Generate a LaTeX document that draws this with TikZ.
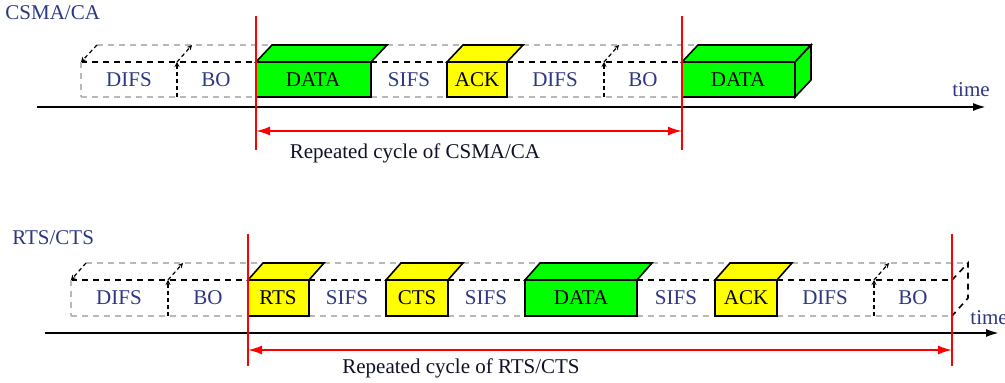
\documentclass[tikz,border=0pt]{standalone}
\usepackage{fontspec}
\setmainfont{Liberation Serif}
\usetikzlibrary{arrows.meta}
\definecolor{lblue}{RGB}{45,55,130}
\definecolor{boxgreen}{RGB}{0,255,0}
\definecolor{boxyellow}{RGB}{255,255,0}
\definecolor{cyclered}{RGB}{255,0,0}
\tikzset{
  solidline/.style={draw=black,line width=0.8pt,line join=miter},
  frontdash/.style={draw=black,line width=0.8pt,dash pattern=on 3pt off 2.5pt},
  backdash/.style={draw=gray!55,line width=1.2pt,dash pattern=on 3pt off 2.5pt},
  edgedash/.style={draw=black,line width=0.6pt,dash pattern=on 2pt off 1.5pt,-{Stealth[length=2.5pt,width=2.5pt]}},
  lbl/.style={font=\fontsize{10.5}{12}\selectfont,text=lblue,inner sep=0pt},
  blbl/.style={font=\fontsize{10.5}{12}\selectfont,text=black,inner sep=0pt},
  redline/.style={draw=cyclered,line width=0.9pt},
  cyclearrow/.style={draw=cyclered,line width=0.9pt,{Latex[length=7pt,width=4.5pt]}-{Latex[length=7pt,width=4.5pt]}},
  axis/.style={draw=black,line width=1.3pt,-{Latex[length=7pt,width=4pt]}}
}
% x1, x2, yfront, ybottom, yback, dx, colour
\newcommand{\tlbox}[7]{%
  \filldraw[solidline,fill=#7] (#1,#3) rectangle (#2,#4);
  \filldraw[solidline,fill=#7] (#1,#3) -- (#1+#6,#5) -- (#2+#6,#5) -- (#2,#3) -- cycle;}
% x1, x2, yfront, ybottom, yback, dx
\newcommand{\tldash}[6]{%
  \draw[backdash] (#1+#6,#5) -- (#2+#6,#5);
  \draw[frontdash] (#1,#3) -- (#2,#3);
  \draw[backdash] (#1,#4) -- (#2,#4);}
\begin{document}
\begin{tikzpicture}[x=0.5pt,y=-0.5pt]
\clip (0,0) rectangle (1005,383);
% ================= CSMA/CA =================
\node[lbl,anchor=west] (t1) at (5,13) {CSMA/CA};
\tldash{81}{256}{62}{97}{45}{16}
\tldash{371}{447}{62}{97}{45}{16}
\tldash{507}{682}{62}{97}{45}{16}
\draw[backdash] (81,62) -- (81,97);
\draw[edgedash] (97,45) -- (81,62);
\draw[edgedash] (177,97) -- (177,62);
\draw[edgedash] (177,62) -- (192,45);
\draw[edgedash] (604,97) -- (604,62);
\draw[edgedash] (604,62) -- (619,45);
\tlbox{256}{371}{62}{97}{45}{16}{boxgreen}
\tlbox{447}{507}{62}{97}{45}{16}{boxyellow}
\tlbox{682}{795}{62}{97}{45}{16}{boxgreen}
\filldraw[solidline,fill=boxgreen] (795,62) -- (811,45) -- (811,80) -- (795,97) -- cycle;
\node[lbl] (a1) at (129,80) {DIFS};
\node[lbl] (a2) at (216,80) {BO};
\node[blbl] (a3) at (313,80) {DATA};
\node[lbl] (a4) at (409,80) {SIFS};
\node[blbl] (a5) at (477,80) {ACK};
\node[lbl] (a6) at (555,80) {DIFS};
\node[lbl] (a7) at (643,80) {BO};
\node[blbl] (a8) at (738,80) {DATA};
\coordinate (ax1s) at (37,107);
\coordinate (ax1e) at (987,107);
\draw[axis] (ax1s) -- (ax1e);
\node[lbl] (time1) at (971,90) {time};
\coordinate (r1t) at (256,16); \coordinate (r1b) at (256,150);
\coordinate (r2t) at (682,16); \coordinate (r2b) at (682,150);
\draw[redline] (r1t) -- (r1b);
\draw[redline] (r2t) -- (r2b);
\coordinate (c1s) at (256,131); \coordinate (c1e) at (682,131);
\draw[cyclearrow] (c1s) -- (c1e);
\node[lbl,text=black!70!lblue] (rep1) at (415,153) {Repeated cycle of CSMA/CA};
% ================= RTS/CTS =================
\node[lbl,anchor=west] (t2) at (12,238) {RTS/CTS};
\tldash{71}{248}{280}{316}{263}{15}
\tldash{309}{386}{280}{316}{263}{15}
\tldash{448}{525}{280}{316}{263}{15}
\tldash{637}{715}{280}{316}{263}{15}
\tldash{777}{952}{280}{316}{263}{15}
\draw[backdash] (71,280) -- (71,316);
\draw[edgedash] (86,263) -- (71,280);
\draw[edgedash] (168,316) -- (168,280);
\draw[edgedash] (168,280) -- (183,263);
\draw[edgedash] (874,316) -- (874,280);
\draw[edgedash] (874,280) -- (889,263);
\draw[frontdash] (952,280) -- (968,263) -- (968,298) -- (952,316);
\tlbox{248}{309}{280}{316}{263}{15}{boxyellow}
\tlbox{386}{448}{280}{316}{263}{15}{boxyellow}
\tlbox{525}{637}{280}{316}{263}{15}{boxgreen}
\tlbox{715}{777}{280}{316}{263}{15}{boxyellow}
\node[lbl] (b1) at (119,298) {DIFS};
\node[lbl] (b2) at (208,298) {BO};
\node[blbl] (b3) at (278,298) {RTS};
\node[lbl] (b4) at (347,298) {SIFS};
\node[blbl] (b5) at (417,298) {CTS};
\node[lbl] (b6) at (486,298) {SIFS};
\node[blbl] (b7) at (581,298) {DATA};
\node[lbl] (b8) at (676,298) {SIFS};
\node[blbl] (b9) at (746,298) {ACK};
\node[lbl] (b10) at (825,298) {DIFS};
\node[lbl] (b11) at (913,298) {BO};
\coordinate (ax2s) at (45,333);
\coordinate (ax2e) at (1000,333);
\draw[axis] (ax2s) -- (ax2e);
\node[lbl,anchor=west] (time2) at (970,318) {time};
\coordinate (r3t) at (248,234); \coordinate (r3b) at (248,366);
\coordinate (r4t) at (952,234); \coordinate (r4b) at (952,366);
\draw[redline] (r3t) -- (r3b);
\draw[redline] (r4t) -- (r4b);
\coordinate (c2s) at (248,350); \coordinate (c2e) at (952,350);
\draw[cyclearrow] (c2s) -- (c2e);
\node[lbl,text=black!70!lblue] (rep2) at (461,368) {Repeated cycle of RTS/CTS};
\end{tikzpicture}
\end{document}
